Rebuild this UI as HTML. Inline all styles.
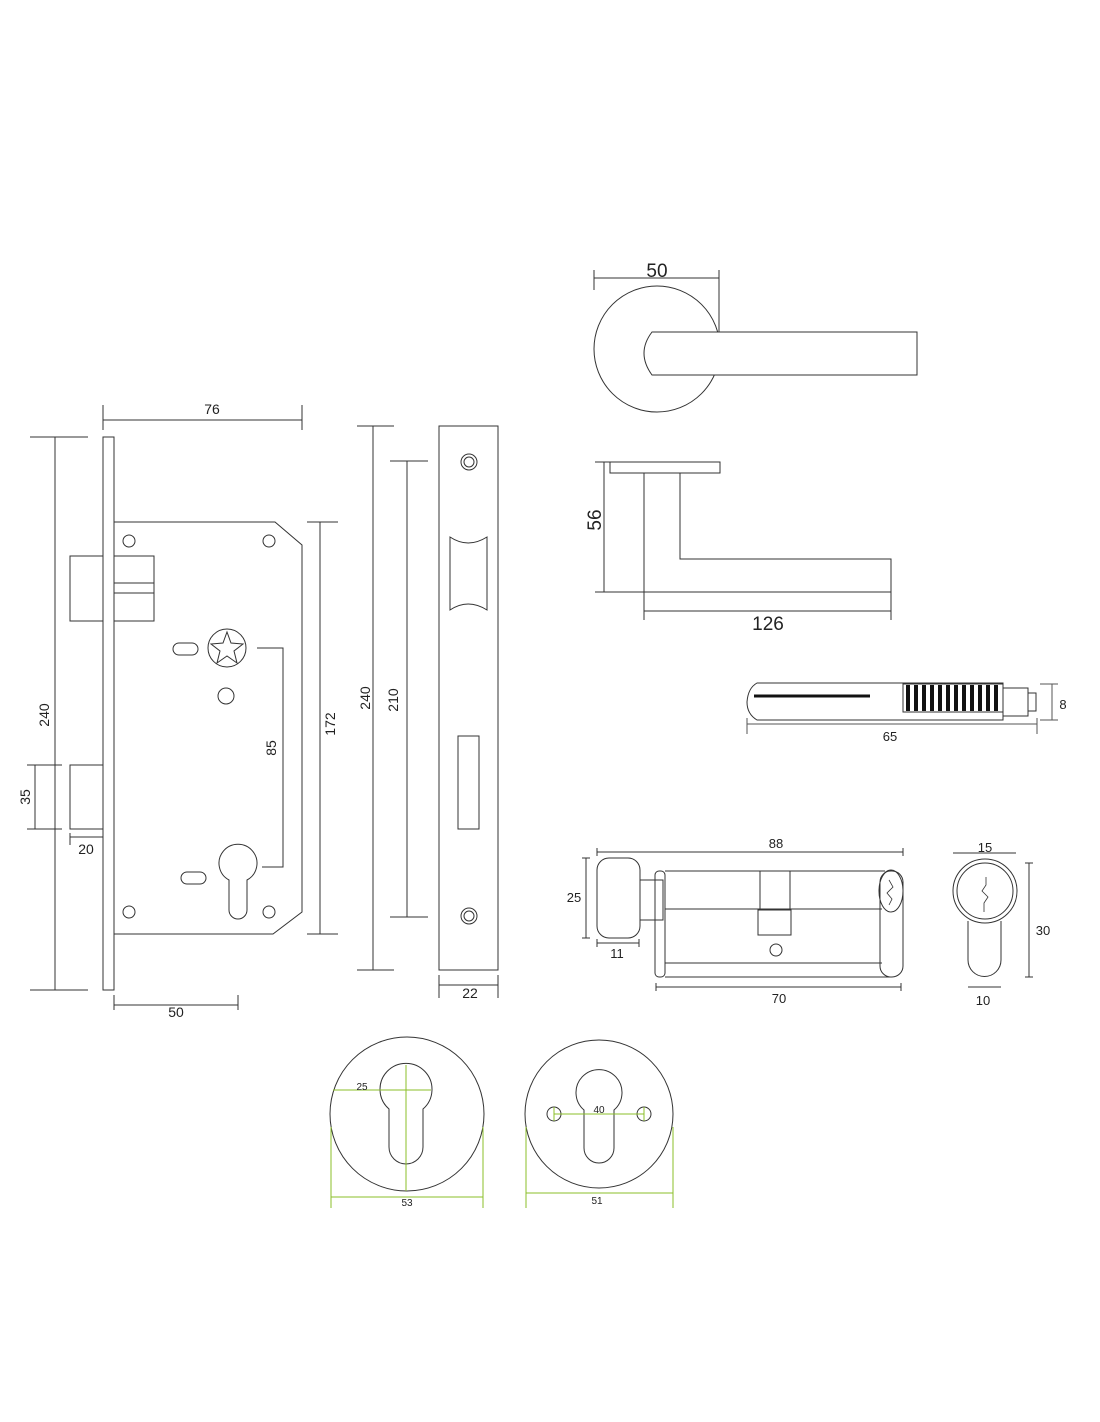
<!DOCTYPE html>
<html><head><meta charset="utf-8"><style>
html,body{margin:0;padding:0;background:#fff;}
svg{display:block;}
text{font-family:"Liberation Sans",sans-serif;fill:#222;}
</style></head><body>
<svg width="1100" height="1422" viewBox="0 0 1100 1422" xmlns="http://www.w3.org/2000/svg">
<g fill="none" stroke="#333" stroke-width="1">
<!-- Mortise lock -->
<line x1="55" y1="437" x2="55" y2="990"/>
<line x1="30" y1="437" x2="88" y2="437"/>
<line x1="30" y1="990" x2="88" y2="990"/>
<rect x="103" y="437" width="11" height="553"/>
<line x1="103" y1="420" x2="302" y2="420"/>
<line x1="103" y1="405" x2="103" y2="430"/>
<line x1="302" y1="405" x2="302" y2="430"/>
<path d="M114 522 H275 L302 545 V912 L273 934 H114"/>
<rect x="70" y="556" width="33" height="65"/>
<rect x="114" y="556" width="40" height="65"/>
<line x1="114" y1="583" x2="154" y2="583"/>
<line x1="114" y1="593" x2="154" y2="593"/>
<rect x="70" y="765" width="33" height="64"/>
<line x1="35" y1="765" x2="35" y2="829"/>
<line x1="27" y1="765" x2="62" y2="765"/>
<line x1="27" y1="829" x2="62" y2="829"/>
<line x1="70" y1="837" x2="103" y2="837"/>
<line x1="70" y1="833" x2="70" y2="845"/>
<circle cx="129" cy="541" r="6"/><circle cx="269" cy="541" r="6"/>
<circle cx="129" cy="912" r="6"/><circle cx="269" cy="912" r="6"/>
<circle cx="227" cy="648" r="19"/>
<polygon points="227,632 231,643 243,644 234,651 237,663 227,656 217,663 220,651 211,644 223,643"/>
<rect x="173" y="643" width="25" height="12" rx="6"/>
<circle cx="226" cy="696" r="8"/>
<path d="M229 880 A19 19 0 1 1 247 880 V910 A9 9 0 0 1 229 910 Z"/>
<rect x="181" y="872" width="25" height="12" rx="6"/>
<path d="M257 648 H283 V867 H262"/>
<line x1="320" y1="522" x2="320" y2="934"/>
<line x1="307" y1="522" x2="338" y2="522"/>
<line x1="307" y1="934" x2="338" y2="934"/>
<line x1="114" y1="1005" x2="238" y2="1005"/>
<line x1="114" y1="995" x2="114" y2="1010"/>
<line x1="238" y1="995" x2="238" y2="1010"/>
<line x1="373" y1="426" x2="373" y2="970"/>
<line x1="357" y1="426" x2="394" y2="426"/>
<line x1="357" y1="970" x2="394" y2="970"/>
<line x1="407" y1="461" x2="407" y2="917"/>
<line x1="390" y1="461" x2="428" y2="461"/>
<line x1="390" y1="917" x2="428" y2="917"/>
<rect x="439" y="426" width="59" height="544"/>
<circle cx="469" cy="462" r="8"/><circle cx="469" cy="462" r="5"/>
<circle cx="469" cy="916" r="8"/><circle cx="469" cy="916" r="5"/>
<path d="M450 537 Q468 549 487 537 V610 Q468 598 450 610 Z"/>
<rect x="458" y="736" width="21" height="93"/>
<line x1="439" y1="985" x2="498" y2="985"/>
<line x1="439" y1="975" x2="439" y2="998"/>
<line x1="498" y1="975" x2="498" y2="998"/>
<!-- Handle top -->
<circle cx="657" cy="349" r="63"/>
<line x1="594" y1="278" x2="719" y2="278"/>
<line x1="594" y1="270" x2="594" y2="290"/>
<line x1="719" y1="270" x2="719" y2="332"/>
<path d="M652 332 H917 V375 H652 Q636 353 652 332 Z" fill="#fff"/>
<!-- Handle side -->
<rect x="610" y="462" width="110" height="11"/>
<path d="M644 473 V592 H891 V559 H680 V473"/>
<line x1="604" y1="462" x2="604" y2="592"/>
<line x1="595" y1="462" x2="610" y2="462"/>
<line x1="595" y1="592" x2="644" y2="592"/>
<line x1="644" y1="611" x2="891" y2="611"/>
<line x1="644" y1="592" x2="644" y2="620"/>
<line x1="891" y1="592" x2="891" y2="620"/>
<!-- Spindle -->
<path d="M757 683 H1003 V720 H757 Q747 714 747 702 Q748 688 757 683 Z"/>
<path d="M1003 688 H1028 V716 H1003"/>
<rect x="1028" y="693" width="8" height="18"/>
<line x1="754" y1="696" x2="870" y2="696" stroke="#111" stroke-width="3"/>
<line x1="747" y1="724" x2="1037" y2="724" stroke="#555"/>
<line x1="747" y1="718" x2="747" y2="734" stroke="#555"/>
<line x1="1037" y1="718" x2="1037" y2="734" stroke="#555"/>
<line x1="1052" y1="684" x2="1052" y2="720" stroke="#555"/>
<line x1="1040" y1="684" x2="1058" y2="684" stroke="#555"/>
<line x1="1040" y1="720" x2="1058" y2="720" stroke="#555"/>
<!-- Cylinder -->
<rect x="597" y="858" width="43" height="80" rx="12"/>
<rect x="640" y="880" width="23" height="40"/>
<rect x="655" y="871" width="10" height="106" rx="4"/>
<line x1="665" y1="871" x2="885" y2="871"/>
<line x1="665" y1="977" x2="890" y2="977"/>
<line x1="665" y1="909" x2="882" y2="909"/>
<line x1="665" y1="963" x2="882" y2="963"/>
<rect x="880" y="871" width="23" height="106" rx="11"/>
<ellipse cx="891" cy="891" rx="12" ry="21"/>
<path d="M889 880 L893 887 L887 893 L892 899 L889 905" stroke-width="0.8"/>
<rect x="760" y="871" width="30" height="38"/>
<rect x="758" y="910" width="33" height="25"/>
<circle cx="776" cy="950" r="6"/>
<line x1="597" y1="852" x2="903" y2="852"/>
<line x1="597" y1="848" x2="597" y2="856"/><line x1="903" y1="848" x2="903" y2="856"/>
<line x1="586" y1="858" x2="586" y2="938"/>
<line x1="582" y1="858" x2="590" y2="858"/><line x1="582" y1="938" x2="590" y2="938"/>
<line x1="597" y1="943" x2="639" y2="943"/>
<line x1="597" y1="939" x2="597" y2="947"/><line x1="639" y1="939" x2="639" y2="947"/>
<line x1="656" y1="987" x2="901" y2="987"/>
<line x1="656" y1="983" x2="656" y2="991"/><line x1="901" y1="983" x2="901" y2="991"/>
<circle cx="985" cy="891" r="32"/>
<circle cx="985" cy="891" r="28"/>
<path d="M986 877 V885 L982 891 L988 897 L984 903 V912" stroke-width="0.8"/>
<path d="M968 921 V960 A16.5 16.5 0 0 0 1001 960 V921"/>
<line x1="953" y1="853" x2="1016" y2="853"/>
<line x1="1029" y1="863" x2="1029" y2="977"/>
<line x1="1025" y1="863" x2="1033" y2="863"/><line x1="1025" y1="977" x2="1033" y2="977"/>
<line x1="968" y1="987" x2="1001" y2="987"/>
<!-- Escutcheons -->
<circle cx="407" cy="1114" r="77"/>
<path d="M389 1109 A26 26 0 1 1 423 1109 V1147 A17 17 0 0 1 389 1147 Z"/>
<circle cx="599" cy="1114" r="74"/>
<path d="M584 1110 A23 23 0 1 1 614 1110 V1148 A15 15 0 0 1 584 1148 Z"/>
<circle cx="554" cy="1114" r="7"/><circle cx="644" cy="1114" r="7"/>
</g>
<g stroke="#8bbf2a" stroke-width="1" fill="none">
<line x1="406" y1="1065" x2="406" y2="1191"/>
<line x1="333" y1="1090" x2="431" y2="1090"/>
<line x1="331" y1="1197" x2="483" y2="1197"/>
<line x1="331" y1="1127" x2="331" y2="1208"/>
<line x1="483" y1="1127" x2="483" y2="1208"/>
<line x1="554" y1="1114" x2="644" y2="1114"/>
<line x1="554" y1="1107" x2="554" y2="1121"/>
<line x1="644" y1="1107" x2="644" y2="1121"/>
<line x1="526" y1="1193" x2="673" y2="1193"/>
<line x1="526" y1="1127" x2="526" y2="1208"/>
<line x1="673" y1="1127" x2="673" y2="1208"/>
</g>
<g font-size="14" text-anchor="middle">
<text x="212" y="414">76</text>
<text x="49" y="715" transform="rotate(-90 49 715)">240</text>
<text x="30" y="797" transform="rotate(-90 30 797)">35</text>
<text x="86" y="854">20</text>
<text x="276" y="748" transform="rotate(-90 276 748)">85</text>
<text x="335" y="724" transform="rotate(-90 335 724)">172</text>
<text x="176" y="1017">50</text>
<text x="370" y="698" transform="rotate(-90 370 698)">240</text>
<text x="398" y="700" transform="rotate(-90 398 700)">210</text>
<text x="470" y="998">22</text>
<text x="657" y="277" font-size="19">50</text>
<text x="601" y="520" font-size="19" transform="rotate(-90 601 520)">56</text>
<text x="768" y="630" font-size="19">126</text>
<text x="890" y="741" font-size="13">65</text>
<text x="1063" y="709" font-size="13">8</text>
<text x="776" y="848" font-size="13">88</text>
<text x="574" y="902" font-size="13">25</text>
<text x="617" y="958" font-size="13">11</text>
<text x="779" y="1003" font-size="13">70</text>
<text x="985" y="852" font-size="13">15</text>
<text x="1043" y="935" font-size="13">30</text>
<text x="983" y="1005" font-size="13">10</text>
<text x="362" y="1090" font-size="10">25</text>
<text x="407" y="1206" font-size="10">53</text>
<text x="599" y="1113" font-size="10">40</text>
<text x="597" y="1204" font-size="10">51</text>
</g>
<g fill="#111">
<rect x="903" y="684" width="100" height="28" fill="#fff" stroke="#333"/>
<g stroke="#111" stroke-width="4">
<line x1="908" y1="685" x2="908" y2="711"/><line x1="916" y1="685" x2="916" y2="711"/>
<line x1="924" y1="685" x2="924" y2="711"/><line x1="932" y1="685" x2="932" y2="711"/>
<line x1="940" y1="685" x2="940" y2="711"/><line x1="948" y1="685" x2="948" y2="711"/>
<line x1="956" y1="685" x2="956" y2="711"/><line x1="964" y1="685" x2="964" y2="711"/>
<line x1="972" y1="685" x2="972" y2="711"/><line x1="980" y1="685" x2="980" y2="711"/>
<line x1="988" y1="685" x2="988" y2="711"/><line x1="996" y1="685" x2="996" y2="711"/>
</g>
</g>
</svg>
</body></html>
